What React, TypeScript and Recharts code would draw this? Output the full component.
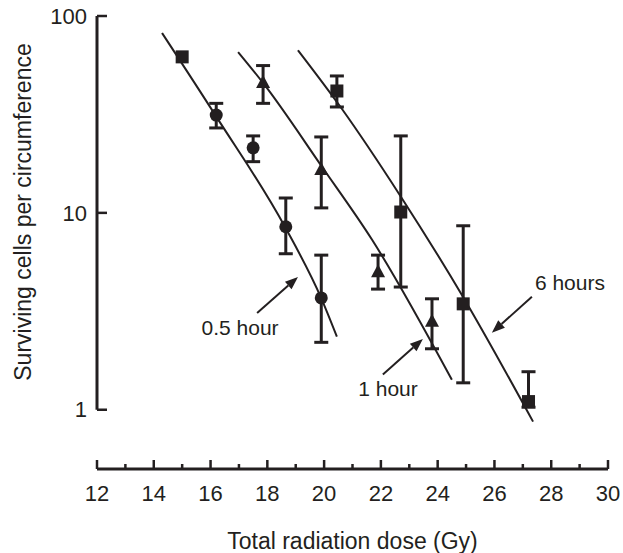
import { ComposedChart, ErrorBar, Line, ReferenceDot, ReferenceLine, Scatter, XAxis, YAxis } from 'recharts'

const INK = '#231f20'
const FONT = '"Liberation Sans", Arial, Helvetica, sans-serif'

const xTicks = [12, 13, 14, 15, 16, 17, 18, 19, 20, 21, 22, 23, 24, 25, 26, 27, 28, 29, 30]
const yTicks = [1, 10, 100]

// 0.5 hour (circles)
const halfDose = [16.2, 17.5, 18.65, 19.9]
const halfCells = [31.4, 21.4, 8.5, 3.7]
const halfLow = [27, 18.2, 6.2, 2.2]
const halfHigh = [36, 24.6, 11.9, 6.1]
const halfFitDose = [14.29, 16.19, 18.62, 19.89, 20.45]
const halfFitCells = [82, 31, 8.5, 3.71, 2.35]

// 1 hour (triangles)
const oneDose = [17.85, 19.9, 21.9, 23.8]
const oneCells = [45.7, 16.5, 5.0, 2.8]
const oneLow = [36, 10.6, 4.1, 2.04]
const oneHigh = [56, 24.3, 6.1, 3.66]
const oneFitDose = [16.97, 17.85, 19.93, 21.69, 24.5]
const oneFitCells = [65.6, 45.7, 17.1, 7.3, 1.42]

// 6 hours (squares)
const sixDose = [20.45, 22.7, 24.9, 27.2]
const sixCells = [41.6, 10.1, 3.45, 1.1]
const sixLow = [34.5, 4.2, 1.37, 1.03]
const sixHigh = [49.6, 24.6, 8.6, 1.56]
const sixFitDose = [19.08, 20.63, 22.67, 24.89, 27.36]
const sixFitCells = [67, 33.7, 12.3, 3.75, 0.87]

// lone square at the start of the 0.5 hour curve
const startDose = [15]
const startCells = [62]

const points = (dose: number[], cells: number[], low?: number[], high?: number[]) =>
  dose.map((x, i) => ({
    x,
    y: cells[i],
    err: low && high ? [cells[i] - low[i], high[i] - cells[i]] : [0, 0],
  }))

const fit = (dose: number[], cells: number[]) => dose.map((x, i) => ({ x, y: cells[i] }))

// annotations: [label, labelX, labelY, tailX, tailY, tipX, tipY]
const notes: [string, number, number, number, number, number, number][] = [
  ['0.5 hour', 17.04, 2.61, 17.64, 3.1, 19.08, 4.73],
  ['1 hour', 22.25, 1.28, 22.07, 1.51, 23.48, 2.29],
  ['6 hours', 28.66, 4.41, 27.32, 3.75, 25.91, 2.46],
]

function XTick(props: any) {
  const { x, y, payload } = props
  const major = payload.value % 2 === 0
  return (
    <g>
      <line x1={x} x2={x} y1={y} y2={y - (major ? 9 : 5)} stroke={INK} strokeWidth={2.5} />
      {major && (
        <text x={x} y={y + 24} dy="0.35em" textAnchor="middle" fontSize={22} fill={INK}>
          {payload.value}
        </text>
      )}
    </g>
  )
}

function YTick(props: any) {
  const { x, y, payload } = props
  return (
    <g>
      <line x1={x} x2={x + 10} y1={y} y2={y} stroke={INK} strokeWidth={2.5} />
      <text x={x - 10} y={y} dy="0.35em" textAnchor="end" fontSize={22} fill={INK}>
        {payload.value}
      </text>
    </g>
  )
}

function Arrow(props: any) {
  const { x1, y1, x2, y2 } = props
  const a = Math.atan2(y2 - y1, x2 - x1)
  const len = 13
  const half = 5
  const bx = x2 - len * Math.cos(a)
  const by = y2 - len * Math.sin(a)
  const pts = `${x2},${y2} ${bx - half * Math.sin(a)},${by + half * Math.cos(a)} ${bx + half * Math.sin(a)},${by - half * Math.cos(a)}`
  return (
    <g>
      <line x1={x1} y1={y1} x2={bx} y2={by} stroke={INK} strokeWidth={2} />
      <polygon points={pts} fill={INK} />
    </g>
  )
}

const Circle = (p: any) => <circle cx={p.cx} cy={p.cy} r={6.5} fill={INK} />
const Square = (p: any) => <rect x={p.cx - 6.5} y={p.cy - 6.5} width={13} height={13} fill={INK} />
const Triangle = (p: any) => (
  <polygon points={`${p.cx},${p.cy - 8} ${p.cx - 7},${p.cy + 5} ${p.cx + 7},${p.cy + 5}`} fill={INK} />
)

function YLabel() {
  return (
    <text x={23} y={212} transform="rotate(-90 23 212)" textAnchor="middle" dy="0.35em" fontSize={23} fill={INK}>
      Surviving cells per circumference
    </text>
  )
}

export default function App() {
  return (
    <div style={{ position: 'absolute', left: 0, top: 0, fontFamily: FONT, background: '#fff' }}>
      <ComposedChart
        width={623}
        height={553}
        margin={{ top: 16, right: 15, bottom: 0, left: 0 }}
        style={{ fontFamily: FONT }}
      >
        <XAxis
          type="number"
          dataKey="x"
          domain={[12, 30]}
          ticks={xTicks}
          interval={0}
          allowDataOverflow
          tickSize={0}
          tickMargin={0}
          tickLine={false}
          axisLine={{ stroke: INK, strokeWidth: 3 }}
          height={84}
          tick={<XTick />}
          label={{ value: 'Total radiation dose (Gy)', position: 'insideBottom', offset: 4, fontSize: 23, fill: INK }}
        />
        <YAxis
          type="number"
          dataKey="y"
          scale="log"
          domain={[0.5, 100]}
          allowDataOverflow
          ticks={yTicks}
          interval={0}
          width={97}
          tickSize={0}
          tickMargin={0}
          tickLine={false}
          axisLine={false}
          tick={<YTick />}
          label={{ content: () => <YLabel /> }}
        />
        <ReferenceLine
          segment={[
            { x: 12, y: 1 },
            { x: 12, y: 100 },
          ]}
          stroke={INK}
          strokeWidth={3}
        />
        <Line data={fit(halfFitDose, halfFitCells)} dataKey="y" type="monotone" stroke={INK} strokeWidth={2} dot={false} isAnimationActive={false} />
        <Line data={fit(oneFitDose, oneFitCells)} dataKey="y" type="monotone" stroke={INK} strokeWidth={2} dot={false} isAnimationActive={false} />
        <Line data={fit(sixFitDose, sixFitCells)} dataKey="y" type="monotone" stroke={INK} strokeWidth={2} dot={false} isAnimationActive={false} />
        <Scatter data={points(halfDose, halfCells, halfLow, halfHigh)} dataKey="y" shape={Circle} isAnimationActive={false}>
          <ErrorBar dataKey="err" direction="y" width={7} stroke={INK} strokeWidth={3} />
        </Scatter>
        <Scatter data={points(oneDose, oneCells, oneLow, oneHigh)} dataKey="y" shape={Triangle} isAnimationActive={false}>
          <ErrorBar dataKey="err" direction="y" width={7} stroke={INK} strokeWidth={3} />
        </Scatter>
        <Scatter data={points(sixDose, sixCells, sixLow, sixHigh)} dataKey="y" shape={Square} isAnimationActive={false}>
          <ErrorBar dataKey="err" direction="y" width={7} stroke={INK} strokeWidth={3} />
        </Scatter>
        <Scatter data={points(startDose, startCells)} dataKey="y" shape={Square} isAnimationActive={false} />
        {notes.map(([text, lx, ly, tx, ty, hx, hy]) => (
          <ReferenceLine
            key={text + '-arrow'}
            segment={[
              { x: tx, y: ty },
              { x: hx, y: hy },
            ]}
            shape={<Arrow />}
          />
        ))}
        {notes.map(([text, lx, ly]) => (
          <ReferenceDot
            key={text}
            x={lx}
            y={ly}
            r={0}
            fill="none"
            stroke="none"
            label={{ value: text, position: 'center', fontSize: 21, fill: INK }}
          />
        ))}
      </ComposedChart>
    </div>
  )
}
